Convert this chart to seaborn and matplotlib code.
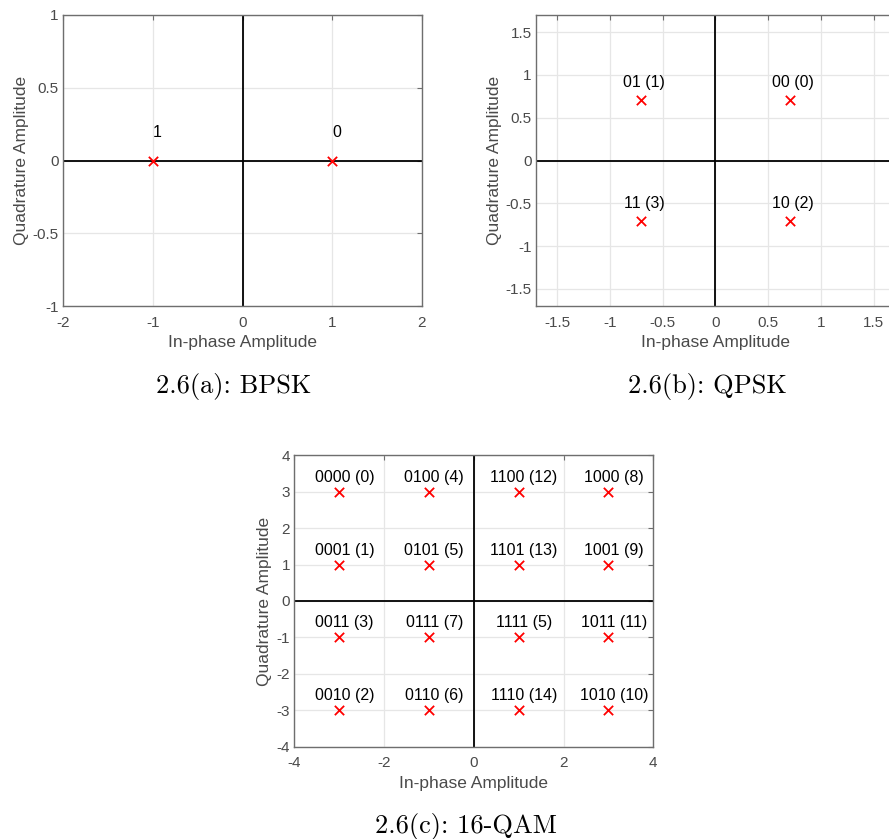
import numpy as np
import pandas as pd
import matplotlib
matplotlib.use("Agg")
import matplotlib.pyplot as plt
import seaborn as sns

# ---- data ----
bpsk_i = [1, -1]
bpsk_q = [0, 0]
bpsk_labels = ["0", "1"]

qpsk_i = [0.7071, -0.7071, 0.7071, -0.7071]
qpsk_q = [0.7071, 0.7071, -0.7071, -0.7071]
qpsk_labels = ["00 (0)", "01 (1)", "10 (2)", "11 (3)"]

qam_i = [-3, -3, -3, -3, -1, -1, -1, -1, 1, 1, 1, 1, 3, 3, 3, 3]
qam_q = [3, 1, -1, -3, 3, 1, -1, -3, 3, 1, -1, -3, 3, 1, -1, -3]
qam_labels = ["0000 (0)", "0001 (1)", "0011 (3)", "0010 (2)",
              "0100 (4)", "0101 (5)", "0111 (7)", "0110 (6)",
              "1100 (12)", "1101 (13)", "1111 (5)", "1110 (14)",
              "1000 (8)", "1001 (9)", "1011 (11)", "1010 (10)"]

bpsk_xticks = [-2, -1, 0, 1, 2]
bpsk_yticks = [-1, -0.5, 0, 0.5, 1]
qpsk_ticks = [-1.5, -1, -0.5, 0, 0.5, 1, 1.5]
qam_xticks = [-4, -2, 0, 2, 4]
qam_yticks = [-4, -3, -2, -1, 0, 1, 2, 3, 4]

captions = ["2.6(a): BPSK", "2.6(b): QPSK", "2.6(c): 16-QAM"]

# ---- style ----
sns.set_theme(style="white")
plt.rcParams['font.family'] = ['Liberation Sans', 'DejaVu Sans']
plt.rcParams['axes.unicode_minus'] = False

W, H = 889, 839
fig = plt.figure(figsize=(W / 100, H / 100), dpi=100)
fig.patch.set_facecolor("white")

TICKC = "#4a4a4a"
SPINEC = "#6e6e6e"


def px_axes(l, t, r, b):
    return fig.add_axes([l / W, 1 - b / H, (r - l) / W, (b - t) / H])


def fmt(v):
    return "%g" % v


def style(ax, xlim, ylim, xt, yt):
    ax.set_xlim(xlim)
    ax.set_ylim(ylim)
    ax.set_xticks(xt)
    ax.set_yticks(yt)
    ax.set_xticklabels([fmt(v) for v in xt])
    ax.set_yticklabels([fmt(v) for v in yt])
    ax.grid(True, color="#e6e6e6", linewidth=0.9)
    ax.set_axisbelow(True)
    ax.axhline(0, color="black", linewidth=1.3, zorder=1.5)
    ax.axvline(0, color="black", linewidth=1.3, zorder=1.5)
    for sp in ax.spines.values():
        sp.set_visible(True)
        sp.set_color(SPINEC)
        sp.set_linewidth(1.0)
    ax.tick_params(axis="both", direction="in", length=3.5, width=0.8,
                   color=SPINEC, labelcolor=TICKC, labelsize=11,
                   top=True, right=True)
    ax.tick_params(axis="x", pad=7)
    ax.tick_params(axis="y", pad=3)
    ax.set_xlabel("In-phase Amplitude", fontsize=12.5, color=TICKC, labelpad=4)
    ax.set_ylabel("Quadrature Amplitude", fontsize=12.5, color=TICKC, labelpad=3)


def scatter(ax, xs, ys):
    df = pd.DataFrame({"I": xs, "Q": ys})
    sns.scatterplot(data=df, x="I", y="Q", marker="x", color="red", s=45,
                    linewidth=1.3, ax=ax, zorder=3, legend=False)


# BPSK
ax1 = px_axes(63, 15, 422, 306)
scatter(ax1, bpsk_i, bpsk_q)
style(ax1, (-2, 2), (-1, 1), bpsk_xticks, bpsk_yticks)
for x, y, lab in zip(bpsk_i, bpsk_q, bpsk_labels):
    ax1.text(x, y + 0.19, lab, ha="left", va="center", fontsize=11.5, color="black")

# QPSK
ax2 = px_axes(536, 15, 894.6, 306)
scatter(ax2, qpsk_i, qpsk_q)
style(ax2, (-1.7, 1.7), (-1.7, 1.7), qpsk_ticks, qpsk_ticks)
for x, y, lab in zip(qpsk_i, qpsk_q, qpsk_labels):
    ax2.text(x + 0.03, y + 0.21, lab, ha="center", va="center", fontsize=11.5, color="black")

# 16-QAM
ax3 = px_axes(294.3, 455.3, 653.3, 746.7)
scatter(ax3, qam_i, qam_q)
style(ax3, (-4, 4), (-4, 4), qam_xticks, qam_yticks)
for x, y, lab in zip(qam_i, qam_q, qam_labels):
    ax3.text(x + 0.12, y + 0.4, lab, ha="center", va="center", fontsize=11.5, color="black")

# captions
cap_kw = dict(ha="center", va="baseline", fontsize=19, family="cmr10", color="black")
fig.text(234 / W, 1 - 393.5 / H, captions[0], **cap_kw)
fig.text(707 / W, 1 - 393.5 / H, captions[1], **cap_kw)
fig.text(466 / W, 1 - 833.5 / H, captions[2], **cap_kw)

fig.savefig("out.png", dpi=100, facecolor="white")
